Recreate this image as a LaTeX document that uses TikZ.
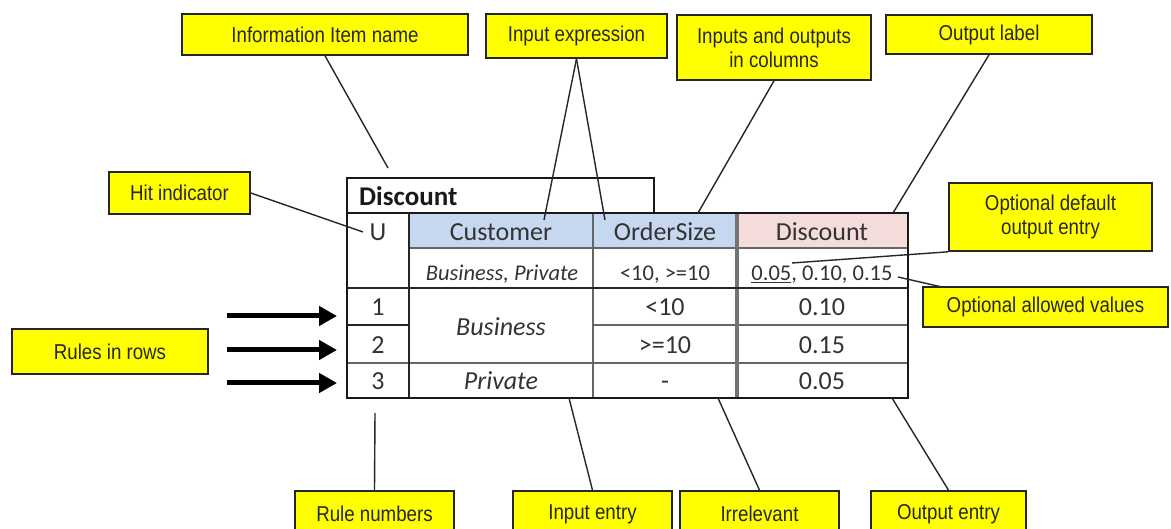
\documentclass[tikz,border=0pt]{standalone}
\usepackage{fontspec}
\setmainfont{Carlito}
\newfontfamily\callfont{Liberation Sans}[FakeStretch=0.87]
\usetikzlibrary{arrows.meta}
\definecolor{callyellow}{HTML}{FFFF00}
\definecolor{hdrblue}{HTML}{C6D8EF}
\definecolor{hdrpink}{HTML}{F4DCDB}
\definecolor{inkgray}{HTML}{333333}
\begin{document}
\begin{tikzpicture}[x=1pt,y=-1pt,
  callout/.style={draw=black!85, line width=1.6pt, fill=callyellow,
    font=\callfont\fontsize{21.5}{24}\selectfont, text=black!85, align=center, inner sep=0pt},
  lead/.style={draw=black!85, line width=1.4pt},
  rulearrow/.style={draw=black, line width=5pt, -{Triangle[length=18pt,width=19pt]}},
  cell/.style={font=\fontsize{26}{30}\selectfont, text=inkgray, inner sep=0pt,
    text height=17pt, text depth=4pt},
  smallcell/.style={font=\fontsize{22.5}{26}\selectfont, text=inkgray, inner sep=0pt,
    text height=15pt, text depth=3.5pt},
  outerline/.style={draw=black!90, line width=2.4pt},
  innerline/.style={draw=black!60, line width=1.2pt},
  midline/.style={draw=black!85, line width=2.4pt},
  dblline/.style={draw=black!55, line width=3.6pt}
]
\fill[white] (0,0) rectangle (1171,529);
\useasboundingbox (0,0) rectangle (1171,529);

% ---- table ----
\fill[hdrblue] (409,213) rectangle (737,248);
\fill[hdrpink] (737,213) rectangle (908,248);
\draw[innerline] (409,248) -- (908,248);
\draw[innerline] (593,325) -- (908,325);
\draw[innerline] (347,363) -- (908,363);
\draw[innerline] (593,213) -- (593,398);
\draw[dblline] (737,213) -- (737,398);
\draw[midline] (347,288) -- (908,288);
\draw[midline] (347,325) -- (409,325);
\draw[midline] (409,213) -- (409,398);
\draw[outerline] (347,213) rectangle (654,178);
\draw[outerline] (347,213) rectangle (908,398);

\node[cell, font=\bfseries\fontsize{27}{30}\selectfont, text=black!90, anchor=west] (title) at (359,199) {Discount};
\node[cell] (cU) at (378,234) {U};
\node[cell] (cCust) at (501,234) {Customer};
\node[cell] (cOrd) at (665,234) {OrderSize};
\node[cell] (cDisc) at (822,234) {Discount};
\node[smallcell, font=\itshape\fontsize{22.5}{26}\selectfont] (vCust) at (502,275) {Business, Private};
\node[smallcell] (vOrd) at (665,275) {<10, >=10};
\node[smallcell] (vDisc) at (822,275) {\underline{0.05}, 0.10, 0.15};
\node[cell] (r1) at (378,309) {1};
\node[cell] (r2) at (378,347) {2};
\node[cell] (r3) at (378,383) {3};
\node[cell, font=\itshape\fontsize{26}{30}\selectfont] (eBus) at (501,329) {Business};
\node[cell, font=\itshape\fontsize{26}{30}\selectfont] (ePriv) at (501,383) {Private};
\node[cell] (eLt) at (665,309) {<10};
\node[cell] (eGe) at (665,347) {>=10};
\node[cell] (eDash) at (665,383) {-};
\node[cell] (o1) at (822,309) {0.10};
\node[cell] (o2) at (822,347) {0.15};
\node[cell] (o3) at (822,383) {0.05};

% ---- callouts ----
\node[callout, minimum width=286pt, minimum height=41pt] (info) at (325,34.5) {Information Item name};
\node[callout, minimum width=181pt, minimum height=44pt] (inexp) at (576.5,36) {Input expression};
\node[callout, minimum width=194pt, minimum height=65pt] (inout) at (774,47.5) {Inputs and outputs\\in columns};
\node[callout, minimum width=206pt, minimum height=39pt] (outlabel) at (989,34.5) {Output label};
\node[callout, minimum width=141pt, minimum height=42pt] (hit) at (179.5,193) {Hit indicator};
\node[callout, minimum width=203pt, minimum height=68pt] (optdef) at (1050.5,217) {Optional default\\output entry};
\node[callout, minimum width=245pt, minimum height=40pt] (optallow) at (1045.5,307) {Optional allowed values};
\node[callout, minimum width=196pt, minimum height=45pt] (rulesrows) at (110,351.5) {Rules in rows};
\node[callout, minimum width=159pt, minimum height=46pt] (rulenum) at (374.5,514) {Rule numbers};
\node[callout, minimum width=159pt, minimum height=46pt] (inentry) at (592.5,514) {Input entry};
\node[callout, minimum width=159pt, minimum height=46pt] (irrel) at (759.5,514) {Irrelevant};
\node[callout, minimum width=155pt, minimum height=46pt] (outentry) at (948.5,514) {Output entry};

% ---- leader end points ----
\coordinate (pInfo) at (388,168);
\coordinate (pCust) at (544,220);
\coordinate (pOrd) at (605,220);
\coordinate (pCols) at (698,213);
\coordinate (pOut) at (893,213);
\coordinate (pHit) at (363,232);
\coordinate (pDef) at (792,263);
\coordinate (pAllow) at (898,277);
\coordinate (pAllowBox) at (942,287);
\coordinate (pRule) at (375,413);
\coordinate (pIn) at (569,398);
\coordinate (pIrr) at (718,398);
\coordinate (pOutE) at (892,398);

\draw[lead] (info.south) -- (pInfo);
\draw[lead] (inexp.south) -- (pCust);
\draw[lead] (inexp.south) -- (pOrd);
\draw[lead] (inout.south) -- (pCols);
\draw[lead] (outlabel.south) -- (pOut);
\draw[lead] (hit.east) -- (pHit);
\draw[lead] (optdef.south west) -- (pDef);
\draw[lead] (pAllowBox) -- (pAllow);
\draw[lead] (rulenum.north) -- (pRule);
\draw[lead] (inentry.north) -- (pIn);
\draw[lead] (irrel.north) -- (pIrr);
\draw[lead] (outentry.north) -- (pOutE);

% ---- rule arrows ----
\coordinate (a1s) at (227,316); \coordinate (a1e) at (337,316);
\coordinate (a2s) at (227,350); \coordinate (a2e) at (337,350);
\coordinate (a3s) at (227,383); \coordinate (a3e) at (337,383);
\draw[rulearrow] (a1s) -- (a1e);
\draw[rulearrow] (a2s) -- (a2e);
\draw[rulearrow] (a3s) -- (a3e);
\end{tikzpicture}
\end{document}
